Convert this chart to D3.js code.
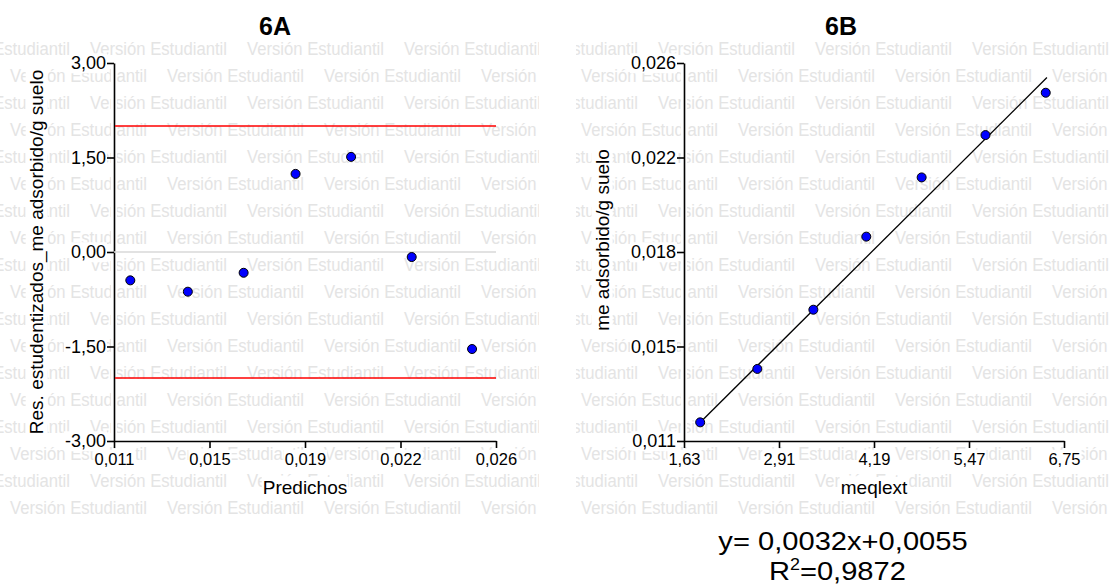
<!DOCTYPE html>
<html>
<head>
<meta charset="utf-8">
<script src="https://cdnjs.cloudflare.com/ajax/libs/d3/7.8.5/d3.min.js"></script>
<style>
body { margin: 0; background: #fff; }
svg { font-family: "Liberation Sans", Arial, sans-serif; }
.wm { fill: #e4e4e4; font-size: 17.5px; }
.axis path, .axis line { stroke: #000; stroke-width: 1.6px; }
.ttl { font-size: 25px; font-weight: bold; }
.lab { font-size: 19px; }
.eq { font-size: 26px; }
</style>
</head>
<body>
<script>

// 6A: residuos estudentizados vs predichos
var predichos = [0.01164, 0.0139, 0.01609, 0.01813, 0.02031, 0.02269, 0.02506];
var residuos = [-0.45, -0.63, -0.33, 1.24, 1.51, -0.08, -1.54];
var limites = [2, -2];
var xTicksA = [0.011, 0.01475, 0.0185, 0.02225, 0.026];
var xLabelsA = ["0,011", "0,015", "0,019", "0,022", "0,026"];
var yTicksA = [-3, -1.5, 0, 1.5, 3];
var yLabelsA = ["-3,00", "-1,50", "0,00", "1,50", "3,00"];

// 6B: me adsorbido/g suelo vs meqlext
var meqlext = [1.848, 2.618, 3.373, 4.086, 4.832, 5.692, 6.504];
var adsorbido = [0.01174, 0.01386, 0.01621, 0.01911, 0.02146, 0.02314, 0.02482];
var ajuste = {pendiente: 0.00293, intercepto: 0.00632, desde: 1.82, hasta: 6.52};
var xTicksB = [1.63, 2.91, 4.19, 5.47, 6.75];
var xLabelsB = ["1,63", "2,91", "4,19", "5,47", "6,75"];
var yTicksB = [0.011, 0.01475, 0.0185, 0.02225, 0.026];
var yLabelsB = ["0,011", "0,015", "0,018", "0,022", "0,026"];

var W = 1111, H = 588;
var plotTop = 63, plotBottom = 441;

var svg = d3.select("body").append("svg")
  .attr("width", W).attr("height", H);

// marca de agua "Versión Estudiantil"
function watermark(id, x0, x1, offA, offB) {
  svg.append("clipPath").attr("id", id)
    .append("rect").attr("x", x0).attr("y", 36).attr("width", x1 - x0).attr("height", 484);
  var g = svg.append("g").attr("clip-path", "url(#" + id + ")");
  for (var r = 0; r < 18; r++) {
    var y = 49 + r * 27;
    var start = (r % 2 == 0 ? offA : offB) - 157 * 2;
    for (var x = start; x < x1; x += 157) {
      g.append("text").attr("class", "wm")
        .attr("x", x).attr("y", y + 6)
        .attr("textLength", 137).attr("lengthAdjust", "spacingAndGlyphs")
        .text("Versión Estudiantil");
    }
  }
}
watermark("wmA", 0, 539, 90, 10);
watermark("wmB", 576, W, 658, 581);

// fondo blanco detras de los textos
function boxed(sel, pad) {
  sel.each(function() {
    var node = this;
    var b = node.getBBox();
    d3.select(node.parentNode).insert("rect", function() { return node; })
      .attr("x", b.x - pad).attr("y", b.y).attr("width", b.width + 2 * pad).attr("height", b.height)
      .attr("fill", "#fff");
  });
}

function panel(cfg) {
  var x = d3.scaleLinear().domain(cfg.xDom).range([cfg.left, cfg.right]);
  var y = d3.scaleLinear().domain(cfg.yDom).range([plotBottom, plotTop]);

  // halo blanco de los ejes
  svg.append("path")
    .attr("d", "M" + cfg.left + "," + (plotTop - 1) + "V" + plotBottom + "H" + (cfg.right + 1))
    .attr("fill", "none").attr("stroke", "#fff").attr("stroke-width", 6);

  var gx = svg.append("g").attr("class", "axis")
    .attr("transform", "translate(0," + plotBottom + ")")
    .call(d3.axisBottom(x).tickValues(cfg.xTicks)
      .tickFormat(function(d, i) { return cfg.xLabels[i]; })
      .tickSize(7).tickSizeOuter(0).tickPadding(5));
  var gy = svg.append("g").attr("class", "axis")
    .attr("transform", "translate(" + cfg.left + ",0)")
    .call(d3.axisLeft(y).tickValues(cfg.yTicks)
      .tickFormat(function(d, i) { return cfg.yLabels[i]; })
      .tickSize(7).tickSizeOuter(0).tickPadding(1));
  gx.attr("font-size", 16.5).attr("font-family", null);
  gy.attr("font-size", 18).attr("font-family", null);
  boxed(gx.selectAll(".tick text"), 1);
  boxed(gy.selectAll(".tick text"), 1);

  svg.append("text").attr("class", "ttl")
    .attr("x", cfg.titleX).attr("y", 35).attr("text-anchor", "middle")
    .text(cfg.title);

  var xl = svg.append("text").attr("class", "lab")
    .attr("x", (cfg.left + cfg.right) / 2).attr("y", 494).attr("text-anchor", "middle")
    .text(cfg.xTitle);
  boxed(xl, 1);

  var yg = svg.append("g").attr("transform", "translate(" + cfg.yTitleX + "," + cfg.yTitleY + ") rotate(-90)");
  var yl = yg.append("text").attr("class", "lab")
    .attr("text-anchor", "middle").attr("dy", "0.35em")
    .text(cfg.yTitle);
  boxed(yl, 1);

  return {x: x, y: y};
}

var A = panel({
  left: 114, right: 496, xDom: [0.011, 0.026], yDom: [-3, 3],
  xTicks: xTicksA, xLabels: xLabelsA, yTicks: yTicksA, yLabels: yLabelsA,
  title: "6A", titleX: 275, xTitle: "Predichos",
  yTitle: "Res. estudentizados_me adsorbido/g suelo", yTitleX: 36, yTitleY: 252
});

svg.append("line")
  .attr("x1", A.x(0.011)).attr("x2", A.x(0.026))
  .attr("y1", A.y(0)).attr("y2", A.y(0))
  .attr("stroke", "#d9d9d9").attr("stroke-width", 1.5);

svg.selectAll(".lim").data(limites).enter().append("line")
  .attr("x1", A.x(0.011) + 1).attr("x2", A.x(0.026))
  .attr("y1", function(d) { return A.y(d); }).attr("y2", function(d) { return A.y(d); })
  .attr("stroke", "#ff0000").attr("stroke-width", 1.5);

svg.selectAll(".ptA").data(predichos).enter().append("circle")
  .attr("cx", function(d) { return A.x(d); })
  .attr("cy", function(d, i) { return A.y(residuos[i]); })
  .attr("r", 4.5).attr("fill", "#0000ff").attr("stroke", "#000").attr("stroke-width", 1);

var B = panel({
  left: 684, right: 1064, xDom: [1.63, 6.75], yDom: [0.011, 0.026],
  xTicks: xTicksB, xLabels: xLabelsB, yTicks: yTicksB, yLabels: yLabelsB,
  title: "6B", titleX: 841, xTitle: "meqlext",
  yTitle: "me adsorbido/g suelo", yTitleX: 602, yTitleY: 240
});

svg.append("line")
  .attr("x1", B.x(ajuste.desde)).attr("x2", B.x(ajuste.hasta))
  .attr("y1", B.y(ajuste.intercepto + ajuste.pendiente * ajuste.desde))
  .attr("y2", B.y(ajuste.intercepto + ajuste.pendiente * ajuste.hasta))
  .attr("stroke", "#000").attr("stroke-width", 1.3);

svg.selectAll(".ptB").data(meqlext).enter().append("circle")
  .attr("cx", function(d) { return B.x(d); })
  .attr("cy", function(d, i) { return B.y(adsorbido[i]); })
  .attr("r", 4.5).attr("fill", "#0000ff").attr("stroke", "#000").attr("stroke-width", 1);

// ecuacion de la recta
var eq = svg.append("g").attr("transform", "translate(843,0) scale(1.12,1)");
eq.append("text").attr("class", "eq").attr("y", 550).attr("text-anchor", "middle")
  .text("y= 0,0032x+0,0055");
var r2 = eq.append("text").attr("class", "eq").attr("x", -5).attr("y", 580).attr("text-anchor", "middle");
r2.append("tspan").text("R");
r2.append("tspan").attr("font-size", "16px").attr("dy", "-10").text("2");
r2.append("tspan").attr("dy", "10").text("=0,9872");

</script>
</body>
</html>
